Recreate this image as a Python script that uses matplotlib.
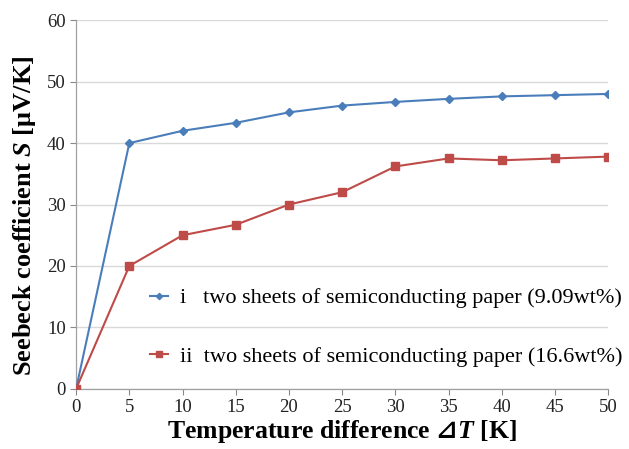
import matplotlib
matplotlib.use('Agg')
import matplotlib.pyplot as plt

delta_t = [0, 5, 10, 15, 20, 25, 30, 35, 40, 45, 50]
seebeck_i = [0, 40.0, 42.0, 43.3, 45.0, 46.1, 46.7, 47.2, 47.6, 47.8, 48.0]
seebeck_ii = [0, 20.0, 25.0, 26.7, 30.0, 32.0, 36.2, 37.5, 37.2, 37.5, 37.8]
label_i = 'i   two sheets of semiconducting paper (9.09wt%)'
label_ii = 'ii  two sheets of semiconducting paper (16.6wt%)'

plt.rcParams['font.family'] = ['Liberation Serif', 'DejaVu Sans']
plt.rcParams['mathtext.fontset'] = 'custom'
plt.rcParams['mathtext.bf'] = 'DejaVu Sans:bold'
plt.rcParams['mathtext.bfit'] = 'Liberation Serif:bold:italic'

fig = plt.figure(figsize=(6.29, 4.49), dpi=100, facecolor='white')
ax = fig.add_axes([0.121, 0.134, 0.846, 0.821])

ax.plot(delta_t, seebeck_i, color='#4A7EBB', linewidth=1.5, marker='D',
        markersize=4, label=label_i, zorder=3)
ax.plot(delta_t, seebeck_ii, color='#BE4B48', linewidth=1.5, marker='s',
        markersize=6, label=label_ii, zorder=3)

ax.set_xlim(0, 50)
ax.set_ylim(0, 60)
ax.set_xticks(range(0, 51, 5))
ax.set_yticks(range(0, 61, 10))
ax.tick_params(axis='both', labelsize=13.5, length=4, width=0.8,
               direction='out', colors='#888888', labelcolor='#222222')
ax.grid(axis='y', color='#D9D9D9', linewidth=1.0)
ax.set_axisbelow(True)
ax.spines[['top', 'right']].set_visible(False)
for s in ['left', 'bottom']:
    ax.spines[s].set_color('#A0A0A0')
    ax.spines[s].set_linewidth(0.9)

ax.set_xlabel('Temperature difference $\\mathbf{\u22bf}\\mathbfit{T}$ [K]',
              fontsize=18.5, fontweight='bold', labelpad=1)
ax.set_ylabel('Seebeck coefficient $\\mathbfit{S}$ [μV/K]',
              fontsize=19, fontweight='bold')
ax.yaxis.set_label_coords(-0.072, 0.47)

leg = ax.legend(loc='lower right', bbox_to_anchor=(1.065, 0.006), frameon=False,
                fontsize=16, labelspacing=1.7, handlelength=0.8,
                handletextpad=0.55, markerscale=0.8)

fig.savefig('out.png', dpi=100, facecolor='white')
